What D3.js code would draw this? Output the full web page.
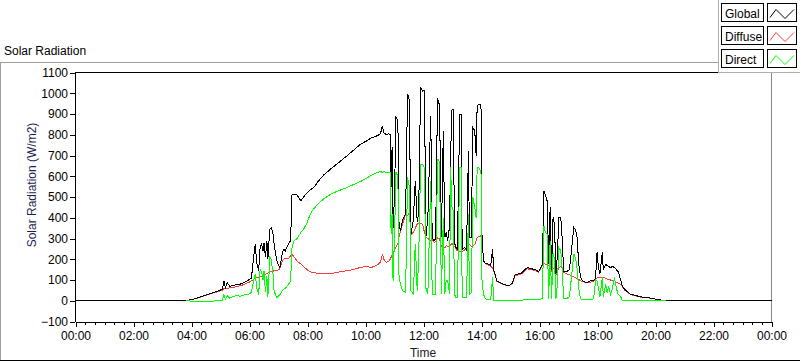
<!DOCTYPE html>
<html><head><meta charset="utf-8">
<script src="https://cdn.jsdelivr.net/npm/d3@7"></script>
<style>
body{margin:0;background:#fff;}
svg text{font-family:"Liberation Sans",Arial,sans-serif;font-size:12px;}
</style></head><body>
<svg id="c" width="800" height="361"></svg>
<script>
// ---------- DATA ----------
const chartTitle = "Solar Radiation";
const xTitle = "Time";
const yTitle = "Solar Radiation (W/m2)";
const seriesNames = ["Global", "Diffuse", "Direct"];
const seriesColors = ["#000000", "#ff3b3b", "#00ff00"];
const yTickValues = [-100,0,100,200,300,400,500,600,700,800,900,1000,1100];
const xTickLabels = ["00:00","02:00","04:00","06:00","08:00","10:00","12:00","14:00","16:00","18:00","20:00","22:00","00:00"];

const times = [
"00:00","03:48","04:08","04:25","04:39","04:52","05:04","05:07","05:10","05:14",
"05:19","05:25","05:33","05:41","05:50","05:58","06:04","06:08","06:12","06:15",
"06:19","06:22","06:25","06:28","06:30","06:33","06:36","06:38","06:42","06:45",
"06:49","06:50","06:54","06:57","07:00","07:03","07:08","07:11","07:14","07:21",
"07:25","07:28","07:32","07:39","07:41","07:46","07:52","07:59","08:06","08:13",
"08:23","08:33","08:48","09:04","09:22","09:35","09:50","10:02","10:12","10:24",
"10:31","10:35","10:38","10:43","10:48","10:51","10:53","10:55","10:57","11:00",
"11:03","11:07","11:09","11:12","11:17","11:23","11:27","11:30","11:32","11:34",
"11:39","11:43","11:47","11:50","11:54","11:58","12:02","12:05","12:09","12:15",
"12:18","12:22","12:25","12:29","12:32","12:35","12:37","12:41","12:44","12:47",
"12:50","12:54","12:56","12:59","13:02","13:04","13:07","13:10","13:15","13:18",
"13:20","13:25","13:29","13:33","13:35","13:39","13:42","13:46","13:49","13:51",
"13:54","13:58","14:00","14:01","14:04","14:08","14:14","14:19","14:23","14:25",
"14:32","14:45","14:56","15:04","15:10","15:21","15:35","15:41","15:52","15:58",
"16:06","16:09","16:12","16:16","16:19","16:22","16:25","16:28","16:31","16:34",
"16:37","16:40","16:44","16:47","16:50","16:56","17:02","17:11","17:15","17:18",
"17:21","17:25","17:29","17:37","17:46","17:52","17:56","17:59","18:02","18:05",
"18:10","18:12","18:17","18:20","18:23","18:27","18:31","18:35","18:39","18:43",
"18:48","18:51","18:56","19:08","19:29","19:50","20:06","20:21","24:00"];

const globalRad = [
0,0,10,24,35,45,55,96,62,88,
70,72,78,80,90,100,108,200,273,180,
145,260,273,240,280,209,290,200,345,353,
320,290,225,193,170,161,233,249,240,275,
289,514,514,509,500,482,500,520,535,546,
578,605,635,665,699,725,755,770,785,795,
805,843,810,800,805,800,550,739,353,500,
884,870,386,337,390,420,996,975,700,321,
390,578,380,420,1028,1010,1012,305,400,892,
305,289,300,972,960,700,305,819,305,330,
289,360,700,924,924,280,257,250,900,900,
245,257,245,723,305,305,835,820,700,940,
948,948,900,321,193,180,177,170,249,150,
96,80,72,85,128,130,161,155,150,140,
177,530,510,480,177,450,150,401,370,130,
220,401,401,300,140,140,150,353,340,300,
180,112,96,88,96,96,110,233,160,130,
233,150,175,169,165,160,165,160,150,140,
100,72,55,32,19,13,5,0,0];

// null = no reading (series not recorded at night)
const diffuseRad = [
null,0,10,22,33,42,50,58,58,60,
62,64,68,72,80,88,96,100,112,110,
112,115,118,120,125,128,132,134,138,140,
142,144,145,145,150,155,193,200,203,205,
217,225,212,190,185,178,165,150,140,135,
132,130,131,138,145,150,161,165,160,172,
185,225,200,185,190,200,210,220,230,245,
257,275,305,330,370,418,410,420,415,320,
330,350,370,370,372,368,330,305,300,289,
295,282,285,305,300,285,260,257,255,265,
262,265,270,275,270,262,250,241,235,235,
235,245,245,273,270,262,265,270,290,305,
310,313,300,321,193,178,172,165,160,148,
92,78,72,82,122,126,155,150,146,138,
170,180,177,175,170,168,145,155,160,126,
140,161,165,155,136,130,125,115,110,108,
104,96,92,86,90,92,104,110,112,112,
112,112,108,104,104,100,96,96,90,85,
80,70,52,30,18,12,5,0,null];

const directRad = [
null,0,-3,-5,-3,0,2,30,8,24,
12,20,24,22,28,32,40,90,128,60,
30,153,140,100,145,40,120,16,209,200,
120,60,24,16,24,30,48,56,60,80,
96,257,289,300,310,329,345,375,420,443,
470,490,514,530,546,560,575,590,605,618,
623,618,622,618,620,618,320,418,96,300,
618,600,128,80,48,40,594,560,400,48,
32,275,48,200,659,659,640,60,32,578,
32,32,32,683,683,400,32,400,32,100,
100,32,643,450,430,32,16,16,643,643,
16,16,16,418,32,40,500,450,400,643,
643,626,600,100,32,10,5,5,112,0,
0,0,0,2,2,3,5,5,5,5,
10,361,330,320,10,289,10,230,200,10,
80,257,240,150,10,10,20,225,200,150,
60,10,5,5,5,10,96,96,60,20,
112,20,80,40,70,30,60,112,60,30,
20,0,0,0,0,0,0,0,null];

// ---------- CHART ----------
const svg = d3.select("#c");
const toMin = s => { const p = s.split(":").map(Number); return p[0]*60 + p[1]; };
const x = d3.scaleLinear().domain([0, 1440]).range([75.5, 771.5]);
const y = d3.scaleLinear().domain([-100, 1100]).range([321.5, 72.5]);
const FONT = "'Liberation Sans',Arial,sans-serif";

// outer frame
svg.append("line").attr("x1",0).attr("x2",718).attr("y1",62.5).attr("y2",62.5).attr("stroke","#a0a0a0");
svg.append("line").attr("x1",0.5).attr("x2",0.5).attr("y1",62).attr("y2",361).attr("stroke","#a0a0a0");
svg.append("line").attr("x1",0).attr("x2",800).attr("y1",360.5).attr("y2",360.5).attr("stroke","#000");

svg.append("text").attr("x",4).attr("y",55).attr("fill","#000").text(chartTitle);

// plot area borders
svg.append("line").attr("x1",75).attr("x2",772).attr("y1",72.5).attr("y2",72.5).attr("stroke","#000").attr("shape-rendering","crispEdges");
svg.append("line").attr("x1",771.5).attr("x2",771.5).attr("y1",72).attr("y2",322).attr("stroke","#8a8a8a").attr("shape-rendering","crispEdges");

// series
const pts = times.map(toMin);
const series = [globalRad, diffuseRad, directRad];
const line = d3.line().defined(d => d[1] !== null).x(d => x(d[0])).y(d => y(d[1]));
[1, 0, 2].forEach(i => {
  svg.append("path")
    .datum(pts.map((t, k) => [t, series[i][k]]))
    .attr("fill","none").attr("stroke", seriesColors[i]).attr("stroke-width",1)
    .attr("shape-rendering","crispEdges")
    .attr("d", line);
});

// y axis
const yAxis = d3.axisLeft(y).tickValues(yTickValues).tickSize(5).tickSizeOuter(0).tickPadding(2)
  .tickFormat(d3.format("d"));
const gy = svg.append("g").attr("transform","translate(75,0)").call(yAxis);
gy.selectAll("path,line").attr("stroke","#000").attr("shape-rendering","crispEdges");
gy.selectAll("text").attr("fill","#000").style("font-size","12px").style("font-family",FONT);

// x axis: minor and major ticks
const minorAxis = d3.axisBottom(x).tickValues(d3.range(0, 1441, 20)).tickSize(3).tickSizeOuter(0).tickFormat("");
const gxm = svg.append("g").attr("transform","translate(0,321.5)").call(minorAxis);
gxm.selectAll("path,line").attr("stroke","#000").attr("shape-rendering","crispEdges");
const majorVals = d3.range(0, 1441, 120);
const majorAxis = d3.axisBottom(x).tickValues(majorVals).tickSize(5).tickSizeOuter(0).tickPadding(5)
  .tickFormat((d, i) => xTickLabels[i]);
const gx = svg.append("g").attr("transform","translate(0,321.5)").call(majorAxis);
gx.select(".domain").remove();
gx.selectAll("line").attr("stroke","#000").attr("shape-rendering","crispEdges");
gx.selectAll("text").attr("fill","#000").style("font-size","12px").style("font-family",FONT);

// axis titles
svg.append("text").attr("x",423).attr("y",357).attr("text-anchor","middle").attr("fill","#1a1a2a").text(xTitle);
svg.append("text").attr("transform","translate(36,185) rotate(-90)").attr("text-anchor","middle")
  .attr("fill","#1e1e50").text(yTitle);

// legend
const lg = svg.append("g");
lg.append("rect").attr("x",718.5).attr("y",-1).attr("width",83).attr("height",73.5).attr("fill","#fff").attr("stroke","none");
lg.append("line").attr("x1",718.5).attr("x2",718.5).attr("y1",0).attr("y2",72).attr("stroke","#b0b0b0");
lg.append("line").attr("x1",718).attr("x2",800).attr("y1",72.5).attr("y2",72.5).attr("stroke","#b0b0b0");
seriesNames.forEach((name, i) => {
  const y0 = 3.5 + i * 23;
  lg.append("rect").attr("x",721.5).attr("y",y0).attr("width",42).attr("height",18)
    .attr("fill","#fff").attr("stroke","#000");
  lg.append("rect").attr("x",767.5).attr("y",y0).attr("width",29).attr("height",18)
    .attr("fill","#fff").attr("stroke","#000");
  lg.append("text").attr("x",725).attr("y",y0 + 14).attr("fill","#000").text(name);
  const sw = [[770, y0+14], [776, y0+6], [785, y0+15], [794, y0+6]];
  lg.append("path").attr("d", d3.line()(sw)).attr("fill","none")
    .attr("stroke", seriesColors[i]).attr("stroke-width",1);
});
</script>
</body></html>
